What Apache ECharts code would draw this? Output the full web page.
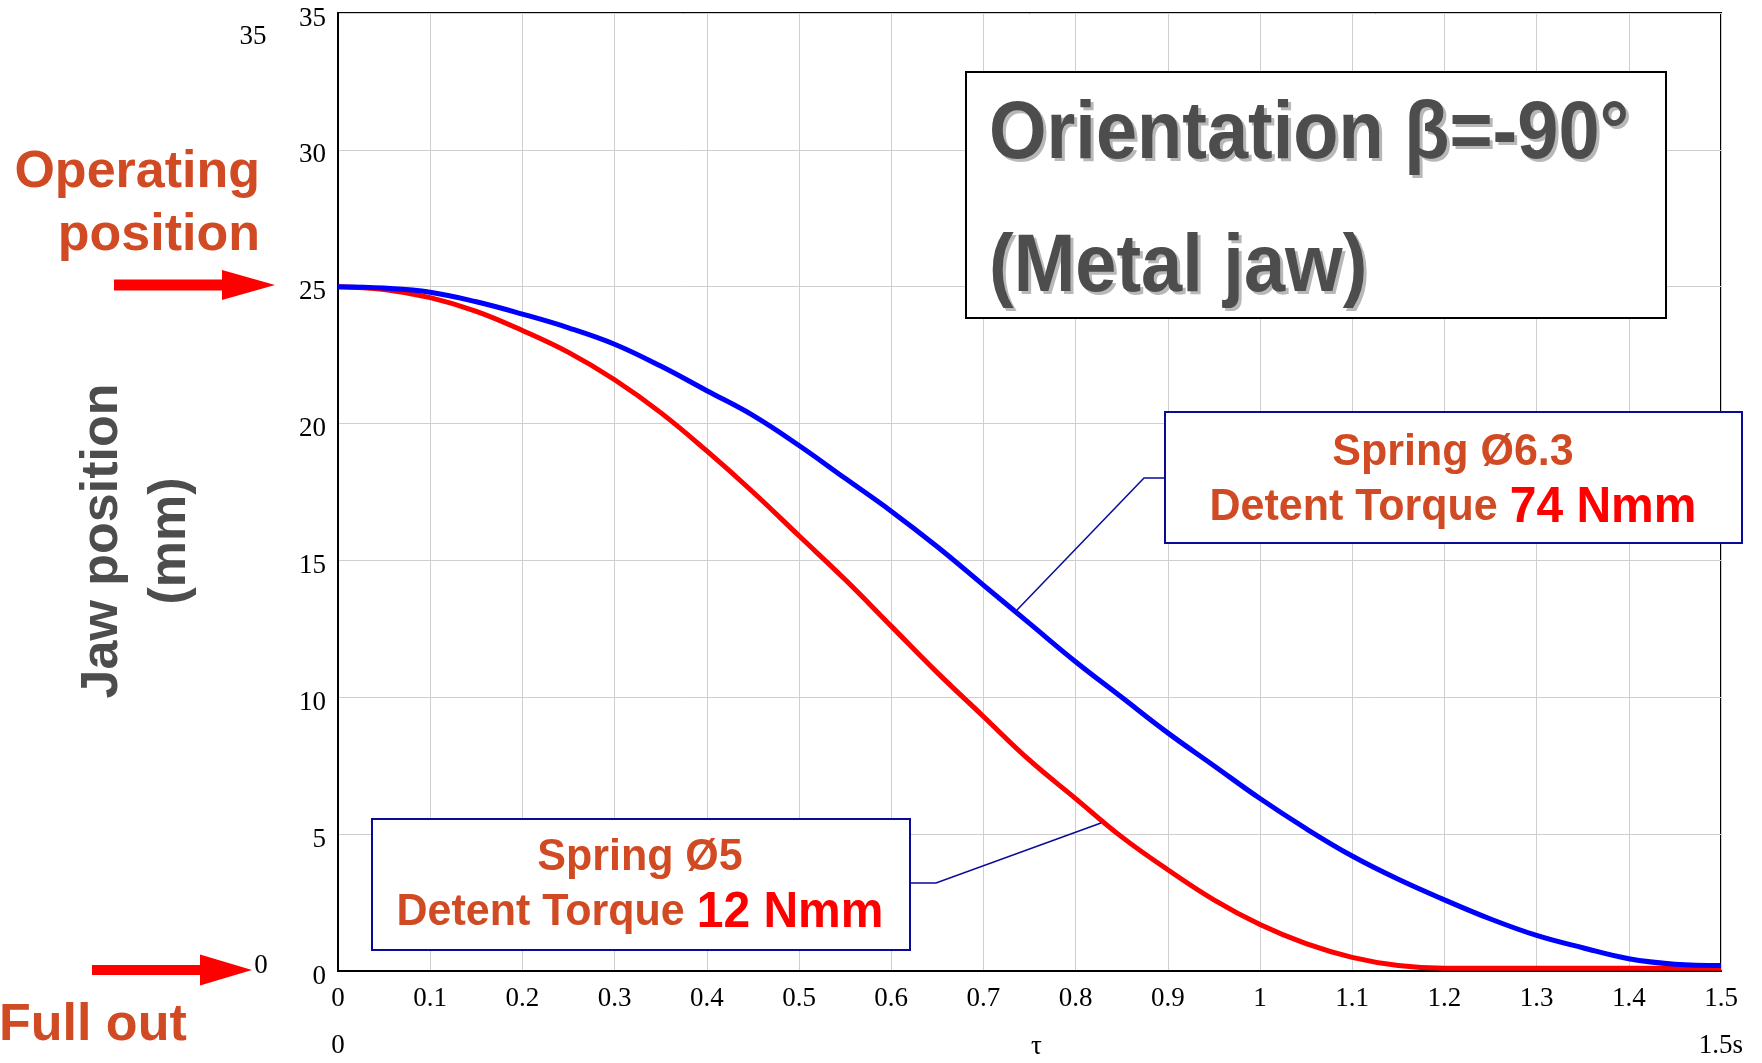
<!DOCTYPE html>
<html><head><meta charset="utf-8">
<script src="https://cdn.jsdelivr.net/npm/echarts@6/dist/echarts.min.js"></script>
<style>html,body{margin:0;padding:0;background:#fff}#c{width:1762px;height:1063px}</style>
</head><body><div id="c"></div>
<script>
// time (s)
const timeS = [0,0.05,0.1,0.15,0.2,0.25,0.3,0.35,0.4,0.45,0.5,0.55,0.6,0.65,0.7,0.75,0.8,0.85,0.9,0.95,1.0,1.05,1.1,1.15,1.2,1.25,1.3,1.35,1.4,1.45,1.5];
// Spring Ø5, detent torque 12 Nmm (red)
const springD5 = [25.0,24.9,24.6,24.1,23.4,22.6,21.6,20.4,19.0,17.5,15.9,14.3,12.6,10.9,9.3,7.7,6.3,4.9,3.7,2.6,1.7,1.0,0.5,0.2,0.1,0.1,0.1,0.1,0.1,0.1,0.1];
// Spring Ø6.3, detent torque 74 Nmm (blue)
const springD63 = [25.0,24.95,24.8,24.45,24.0,23.5,22.9,22.1,21.2,20.3,19.2,18.0,16.8,15.5,14.1,12.7,11.3,10.0,8.7,7.5,6.3,5.2,4.2,3.35,2.6,1.9,1.3,0.85,0.45,0.25,0.2];
const xRange = [0, 1.5];
const yRange = [0, 35];

const SANS = 'Liberation Sans, Arial, sans-serif';
const SERIF = 'Liberation Serif, Times New Roman, serif';
const ORANGE = '#D04B23';
const NAVY = '#0A0A9A';

const chart = echarts.init(document.getElementById('c'), null, {renderer: 'canvas'});
const pair = arr => timeS.map((t, i) => [t, arr[i]]);

function arrow(x0, x1, xh, yc, shaftHalf, headHalf) {
  return {type: 'polygon', z: 50, shape: {points: [
    [x0, yc - shaftHalf], [x1, yc - shaftHalf], [x1, yc - headHalf], [xh, yc],
    [x1, yc + headHalf], [x1, yc + shaftHalf], [x0, yc + shaftHalf]]},
    style: {fill: '#FF0000'}};
}
function txt(x, y, text, opts, extra) {
  return Object.assign({type: 'text', x: x, y: y, z: 60, style: Object.assign({text: text}, opts)}, extra || {});
}

const option = {
  animation: false,
  backgroundColor: '#ffffff',
  grid: {left: 338, right: 41, top: 13, bottom: 92, outerBoundsMode: 'none', containLabel: false,
    show: true, borderColor: '#000', borderWidth: 2, backgroundColor: 'transparent'},
  xAxis: [{
    type: 'value', min: xRange[0], max: xRange[1], interval: 0.1,
    axisLine: {show: true, onZero: false, lineStyle: {color: '#000', width: 2}},
    axisTick: {show: false},
    splitLine: {show: true, lineStyle: {color: '#CFCFCF', width: 1}},
    axisLabel: {color: '#000', fontFamily: SERIF, fontSize: 27, margin: 14,
      formatter: v => String(parseFloat(v.toFixed(1)))}
  }, {
    type: 'value', min: xRange[0], max: xRange[1], interval: 1.5, position: 'bottom',
    axisLine: {show: false}, axisTick: {show: false}, splitLine: {show: false},
    axisLabel: {color: '#000', fontFamily: SERIF, fontSize: 27, margin: 61,
      formatter: v => (v === 0 ? '0' : '1.5s')},
    name: 'τ', nameLocation: 'middle', nameGap: 62, nameMoveOverlap: false,
    nameTextStyle: {color: '#000', fontFamily: SERIF, fontSize: 27, padding: [0, 0, 0, 14]}
  }],
  yAxis: {
    type: 'value', min: yRange[0], max: yRange[1], interval: 5,
    axisLine: {show: true, onZero: false, lineStyle: {color: '#000', width: 2}},
    axisTick: {show: false},
    splitLine: {show: true, lineStyle: {color: '#CFCFCF', width: 1}},
    axisLabel: {color: '#000', fontFamily: SERIF, fontSize: 27, margin: 12, verticalAlign: 'top', lineHeight: 11}
  },
  series: [{
    name: 'Spring Ø5', type: 'line', data: pair(springD5), showSymbol: false,
    smooth: 0.4,
    lineStyle: {color: '#FF0000', width: 5}, z: 3
  }, {
    name: 'Spring Ø6.3', type: 'line', data: pair(springD63), showSymbol: false,
    smooth: 0.4,
    lineStyle: {color: '#0000FF', width: 5}, z: 4
  }],
  graphic: [
    // title box
    {type: 'rect', z: 40, shape: {x: 966, y: 72, width: 700, height: 246}, style: {fill: '#fff', stroke: '#000', lineWidth: 2}},
    txt(992, 139, 'Orientation β=-90°', {fill: '#B8B8B8', font: 'bold 74px ' + SANS, textAlign: 'left', textVerticalAlign: 'middle'}, {scaleY: 1.1}),
    txt(989, 136, 'Orientation β=-90°', {fill: '#4D4D4D', font: 'bold 74px ' + SANS, textAlign: 'left', textVerticalAlign: 'middle'}, {scaleY: 1.1}),
    txt(992, 272, '(Metal jaw)', {fill: '#B8B8B8', font: 'bold 74px ' + SANS, textAlign: 'left', textVerticalAlign: 'middle'}, {scaleY: 1.1}),
    txt(989, 269, '(Metal jaw)', {fill: '#4D4D4D', font: 'bold 74px ' + SANS, textAlign: 'left', textVerticalAlign: 'middle'}, {scaleY: 1.1}),
    // Ø6.3 box + leader
    {type: 'polyline', z: 45, shape: {points: [[1165, 478], [1144, 478], [1017, 610]]}, style: {stroke: NAVY, lineWidth: 1.5, fill: null}},
    {type: 'rect', z: 40, shape: {x: 1165, y: 412, width: 577, height: 131}, style: {fill: '#fff', stroke: NAVY, lineWidth: 2}},
    txt(1453, 453, 'Spring Ø6.3', {fill: ORANGE, font: 'bold 43px ' + SANS, textAlign: 'center', textVerticalAlign: 'middle'}, {scaleY: 1.05}),
    txt(1453, 508, '{a|Detent Torque }{b|74 Nmm}', {textAlign: 'center', textVerticalAlign: 'middle',
      rich: {a: {fill: ORANGE, fontSize: 43, fontWeight: 'bold', fontFamily: SANS},
             b: {fill: '#FF0000', fontSize: 48, fontWeight: 'bold', fontFamily: SANS}}}, {scaleY: 1.05}),
    // Ø5 box + leader
    {type: 'polyline', z: 45, shape: {points: [[910, 883], [936, 883], [1101, 823]]}, style: {stroke: NAVY, lineWidth: 1.5, fill: null}},
    {type: 'rect', z: 40, shape: {x: 372, y: 819, width: 538, height: 131}, style: {fill: '#fff', stroke: NAVY, lineWidth: 2}},
    txt(640, 858, 'Spring Ø5', {fill: ORANGE, font: 'bold 43px ' + SANS, textAlign: 'center', textVerticalAlign: 'middle'}, {scaleY: 1.05}),
    txt(640, 913, '{a|Detent Torque }{b|12 Nmm}', {textAlign: 'center', textVerticalAlign: 'middle',
      rich: {a: {fill: ORANGE, fontSize: 43, fontWeight: 'bold', fontFamily: SANS},
             b: {fill: '#FF0000', fontSize: 48, fontWeight: 'bold', fontFamily: SANS}}}, {scaleY: 1.05}),
    // left annotations
    txt(260, 173, 'Operating', {fill: ORANGE, font: 'bold 52px ' + SANS, textAlign: 'right', textVerticalAlign: 'middle'}),
    txt(260, 236, 'position', {fill: ORANGE, font: 'bold 52px ' + SANS, textAlign: 'right', textVerticalAlign: 'middle'}),
    arrow(114, 222, 275, 285, 5.5, 15),
    arrow(92, 200, 252, 970, 5, 15.5),
    txt(-1, 1026, 'Full out', {fill: ORANGE, font: 'bold 52px ' + SANS, textAlign: 'left', textVerticalAlign: 'middle'}),
    txt(253, 37, '35', {fill: '#000', font: '27px ' + SERIF, textAlign: 'center', textVerticalAlign: 'middle'}),
    txt(261, 966, '0', {fill: '#000', font: '27px ' + SERIF, textAlign: 'center', textVerticalAlign: 'middle'}),
    // y axis title
    {type: 'text', x: 137, y: 541, rotation: Math.PI / 2, z: 60,
     style: {text: 'Jaw position\n(mm)', fill: '#4D4D4D', font: 'bold 52px ' + SANS, lineHeight: 68, textAlign: 'center', textVerticalAlign: 'middle'}}
  ]
};
chart.setOption(option);
</script>
</body></html>
